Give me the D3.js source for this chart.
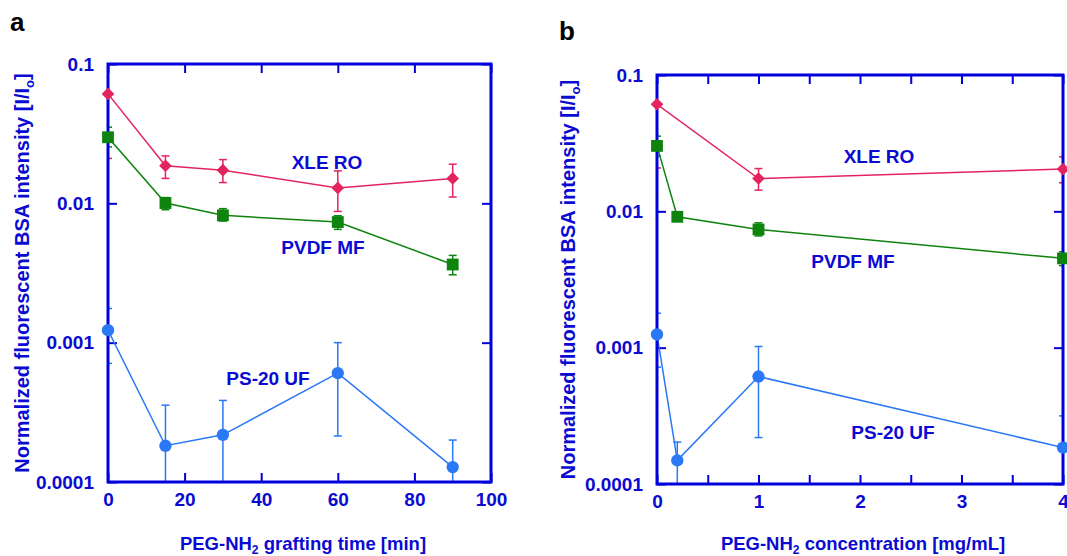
<!DOCTYPE html>
<html lang="en">
<head>
  <meta charset="UTF-8">
  <title>BSA fouling</title>
  <script src="https://d3js.org/d3.v7.min.js"></script>
  <style>
    body { margin: 0; background: #fff; }
    svg { display: block; font-family: "Liberation Sans", Arial, sans-serif; font-weight: bold; }
    .lbl { fill: #0a0ad2; }
  </style>
</head>
<body>
  <svg width="1067" height="556"></svg>
  <script>
    // panel a: grafting time [min]
    const timeX = [0, 15, 30, 60, 90];
    const timeXLE = [0.061, 0.0186, 0.0173, 0.0129, 0.0151];
    const timeXLEHi = [0.1, 0.0219, 0.0206, 0.0171, 0.0191];
    const timeXLELo = [0.021, 0.0151, 0.0141, 0.00875, 0.0111];
    const timePVDF = [0.0298, 0.01005, 0.0082, 0.00734, 0.00364];
    const timePVDFHi = [0.0352, 0.011, 0.00916, 0.00815, 0.00423];
    const timePVDFLo = [0.0254, 0.009, 0.00746, 0.0065, 0.00307];
    const timePS = [0.00123, 0.000182, 0.000218, 0.000605, 0.000128];
    const timePSHi = [0.00176, 0.000356, 0.000385, 0.001, 0.0002];
    const timePSLo = [0.00071, 0.00001, 0.00005, 0.000214, 0.00005];

    // panel b: concentration [mg/mL]
    const concXLEX = [0, 1, 4];
    const concXLE = [0.061, 0.0174, 0.0204];
    const concXLEHi = [0.1, 0.0206, 0.0251];
    const concXLELo = [0.0208, 0.0143, 0.0162];
    const concX = [0, 0.2, 1, 4];
    const concPVDF = [0.0302, 0.00912, 0.00736, 0.00452];
    const concPVDFHi = [0.0356, 0.0095, 0.00824, 0.00505];
    const concPVDFLo = [0.0254, 0.0087, 0.0066, 0.004];
    const concPS = [0.00125, 0.000149, 0.000614, 0.000185];
    const concPSHi = [0.00179, 0.000203, 0.00102, 0.000316];
    const concPSLo = [0.00072, 0.00001, 0.000219, 0.00005];

    const yTicks = [0.1, 0.01, 0.001, 0.0001];
    const yTickLabels = ["0.1", "0.01", "0.001", "0.0001"];

    const red = "#e3245e", green = "#0e840e", blue = "#2a78f5", axisBlue = "#0000dc";

    const zip = (xs, ys, hi, lo) => xs.map((x, i) => ({ x, y: ys[i], hi: hi[i], lo: lo[i] }));

    const panels = [
      {
        id: "a", letter: [10, 31], box: { l: 108, r: 491, t: 64, b: 482 },
        xDomain: [0, 100], xTicks: [0, 20, 40, 60, 80, 100], xLabels: d => d,
        xTitle: "grafting time [min]", titleX: 303, yTitleX: 29,
        series: [
          { data: zip(timeX, timeXLE, timeXLEHi, timeXLELo), color: red, shape: "diamond" },
          { data: zip(timeX, timePVDF, timePVDFHi, timePVDFLo), color: green, shape: "square" },
          { data: zip(timeX, timePS, timePSHi, timePSLo), color: blue, shape: "circle" }
        ],
        notes: [["XLE RO", 327, 169], ["PVDF MF", 323, 254], ["PS-20 UF", 268, 385]]
      },
      {
        id: "b", letter: [559, 40], box: { l: 657, r: 1063, t: 75, b: 484 },
        xDomain: [0, 4], xTicks: d3.range(0, 4.01, 0.5), xLabels: d => Number.isInteger(d) ? d : "",
        xTitle: "concentration [mg/mL]", titleX: 863, yTitleX: 575,
        series: [
          { data: zip(concXLEX, concXLE, concXLEHi, concXLELo), color: red, shape: "diamond" },
          { data: zip(concX, concPVDF, concPVDFHi, concPVDFLo), color: green, shape: "square" },
          { data: zip(concX, concPS, concPSHi, concPSLo), color: blue, shape: "circle" }
        ],
        notes: [["XLE RO", 879, 163], ["PVDF MF", 853, 268], ["PS-20 UF", 893, 439]]
      }
    ];

    const svg = d3.select("svg");

    panels.forEach(p => {
      const { l, r, t, b } = p.box;
      const x = d3.scaleLinear().domain(p.xDomain).range([l, r]);
      const y = d3.scaleLog().domain([0.0001, 0.1]).range([b, t]);
      const g = svg.append("g");

      g.append("text").attr("x", p.letter[0]).attr("y", p.letter[1])
        .attr("font-size", 26).attr("fill", "#000").text(p.id);

      g.append("clipPath").attr("id", "clip-" + p.id)
        .append("rect").attr("x", l).attr("y", t).attr("width", r - l).attr("height", b - t);

      // axes: ticks point inward, labels outside
      const styleAxis = sel => {
        sel.select(".domain").remove();
        sel.selectAll(".tick line").attr("stroke", axisBlue).attr("stroke-width", 2);
        sel.selectAll(".tick text").attr("class", "lbl").attr("font-size", 19)
          .attr("font-family", null);
      };
      g.append("g").attr("transform", `translate(0,${b})`)
        .call(d3.axisBottom(x).tickValues(p.xTicks).tickFormat(p.xLabels)
          .tickSizeInner(-9).tickSizeOuter(0).tickPadding(11))
        .call(styleAxis);
      g.append("g").attr("transform", `translate(0,${t})`)
        .call(d3.axisTop(x).tickValues(p.xTicks).tickFormat("").tickSizeInner(-9).tickSizeOuter(0))
        .call(styleAxis);
      g.append("g").attr("transform", `translate(${l},0)`)
        .call(d3.axisLeft(y).tickValues(yTicks).tickFormat((d, i) => yTickLabels[i])
          .tickSizeInner(-9).tickSizeOuter(0).tickPadding(14))
        .call(styleAxis);
      g.append("g").attr("transform", `translate(${r},0)`)
        .call(d3.axisRight(y).tickValues(yTicks).tickFormat("").tickSizeInner(-9).tickSizeOuter(0))
        .call(styleAxis);

      // error bars and lines (clipped to plot)
      const inner = g.append("g").attr("clip-path", `url(#clip-${p.id})`);
      p.series.forEach(s => {
        inner.append("path").datum(s.data)
          .attr("fill", "none").attr("stroke", s.color).attr("stroke-width", 1.5)
          .attr("d", d3.line().x(d => x(d.x)).y(d => y(d.y)));
        const eb = inner.selectAll(null).data(s.data).enter().append("g")
          .attr("stroke", s.color).attr("stroke-width", 1.5);
        eb.append("line").attr("x1", d => x(d.x)).attr("x2", d => x(d.x))
          .attr("y1", d => y(d.hi)).attr("y2", d => y(d.lo));
        eb.append("line").attr("x1", d => x(d.x) - 4).attr("x2", d => x(d.x) + 4)
          .attr("y1", d => y(d.hi)).attr("y2", d => y(d.hi));
        eb.append("line").attr("x1", d => x(d.x) - 4).attr("x2", d => x(d.x) + 4)
          .attr("y1", d => y(d.lo)).attr("y2", d => y(d.lo));
      });

      // frame
      g.append("rect").attr("x", l).attr("y", t).attr("width", r - l).attr("height", b - t)
        .attr("fill", "none").attr("stroke", axisBlue).attr("stroke-width", 3);

      // markers on top
      p.series.forEach(s => {
        const sym = s.shape === "circle" ? d3.symbol(d3.symbolCircle, 120)
          : d3.symbol(d3.symbolSquare, s.shape === "square" ? 140 : 80);
        g.selectAll(null).data(s.data).enter().append("path")
          .attr("d", sym)
          .attr("fill", s.color)
          .attr("transform", d => `translate(${x(d.x)},${y(d.y)})` + (s.shape === "diamond" ? " rotate(45)" : ""));
      });

      // series notes
      g.selectAll(null).data(p.notes).enter().append("text")
        .attr("class", "lbl").attr("font-size", 19).attr("text-anchor", "middle")
        .attr("x", d => d[1]).attr("y", d => d[2]).text(d => d[0]);

      // axis titles
      const xt = g.append("text").attr("class", "lbl").attr("font-size", 18.5)
        .attr("text-anchor", "middle").attr("x", p.titleX).attr("y", 550);
      xt.append("tspan").text("PEG-NH");
      xt.append("tspan").attr("font-size", 12).attr("dy", 4).text("2");
      xt.append("tspan").attr("dy", -4).text(" " + p.xTitle);

      const yt = g.append("text").attr("class", "lbl").attr("font-size", 20)
        .attr("text-anchor", "middle")
        .attr("transform", `translate(${p.yTitleX},${(t + b) / 2}) rotate(-90)`);
      yt.append("tspan").text("Normalized fluorescent BSA intensity [I/I");
      yt.append("tspan").attr("font-size", 13).attr("dy", 5).text("o");
      yt.append("tspan").attr("dy", -5).text("]");
    });
  </script>
</body>
</html>
